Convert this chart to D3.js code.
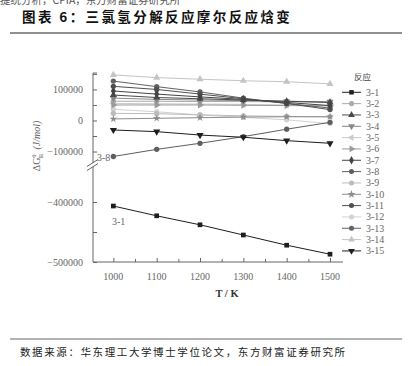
<!DOCTYPE html>
<html>
<head>
<meta charset="utf-8">
<script src="https://cdn.jsdelivr.net/npm/d3@7"></script>
<style>
  body { margin: 0; background: #fff; }
  svg { display: block; }
</style>
</head>
<body>
<svg id="chart" width="412" height="366"></svg>
<script>
// temperatures (K)
const temps = [1000, 1100, 1200, 1300, 1400, 1500];

// reaction names, in legend order
const reactions = ["3-1", "3-2", "3-3", "3-4", "3-5", "3-6", "3-7", "3-8",
                   "3-9", "3-10", "3-11", "3-12", "3-13", "3-14", "3-15"];

// ΔG values (J/mol)
const r3_1  = [-406700, -423000, -438000, -455000, -472000, -487000];
const r3_2  = [62000, 62000, 61000, 61000, 60000, 60000];
const r3_3  = [82000, 74000, 70000, 66000, 62000, 58000];
const r3_4  = [72000, 68000, 66000, 64000, 62000, 60000];
const r3_5  = [55000, 54000, 53000, 52000, 50000, 48000];
const r3_6  = [50000, 50000, 50000, 49000, 48000, 47000];
const r3_7  = [95000, 85000, 76000, 68000, 58000, 48000];
const r3_8  = [-116000, -93000, -73500, -52000, -28000, -6000];
const r3_9  = [23000, 22000, 18000, 15000, 13000, 12000];
const r3_10 = [5000, 7000, 9000, 11000, 12000, 12000];
const r3_11 = [110000, 100000, 85000, 70000, 55000, 35000];
const r3_12 = [36000, 28000, 18000, 10000, 2000, -10000];
const r3_13 = [127000, 109000, 92000, 72000, 55000, 40000];
const r3_14 = [147000, 138000, 133000, 128000, 125000, 118000];
const r3_15 = [-30600, -36000, -47000, -54000, -65000, -73500];

const upperTicks = [100000, 0, -100000];
const lowerTicks = [-400000, -500000];

const allSeries = [r3_1, r3_2, r3_3, r3_4, r3_5, r3_6, r3_7, r3_8,
                   r3_9, r3_10, r3_11, r3_12, r3_13, r3_14, r3_15];

// marker + grey per reaction
const styles = {
  "3-1":  { sym: d3.symbolSquare,   rot: 0,   c: "#1e1e1e" },
  "3-2":  { sym: d3.symbolCircle,   rot: 0,   c: "#aaaaaa" },
  "3-3":  { sym: d3.symbolTriangle, rot: 0,   c: "#4a4a4a" },
  "3-4":  { sym: d3.symbolTriangle, rot: 180, c: "#888888" },
  "3-5":  { sym: d3.symbolTriangle, rot: -90, c: "#cccccc" },
  "3-6":  { sym: d3.symbolTriangle, rot: 90,  c: "#999999" },
  "3-7":  { sym: d3.symbolDiamond,  rot: 0,   c: "#444444" },
  "3-8":  { sym: d3.symbolCircle,   rot: 0,   c: "#5e5e5e" },
  "3-9":  { sym: d3.symbolCircle,   rot: 0,   c: "#bbbbbb" },
  "3-10": { sym: d3.symbolStar,     rot: 0,   c: "#8c8c8c" },
  "3-11": { sym: d3.symbolCircle,   rot: 0,   c: "#505050" },
  "3-12": { sym: d3.symbolCircle,   rot: 0,   c: "#d2d2d2" },
  "3-13": { sym: d3.symbolCircle,   rot: 0,   c: "#626262" },
  "3-14": { sym: d3.symbolTriangle, rot: 0,   c: "#c4c4c4" },
  "3-15": { sym: d3.symbolTriangle, rot: 180, c: "#1e1e1e" }
};

const svg = d3.select("#chart");
const serif = "'Liberation Serif', 'DejaVu Serif', serif";
const cjk = "'Noto Sans CJK SC', sans-serif";

// page header / footer
svg.append("text").attr("x", 0).attr("y", 4)
  .attr("font-family", cjk).attr("font-size", 10.5).attr("fill", "#555")
  .text("提统分析，CPIA，东方财富证券研究所");
svg.append("text").attr("x", 22).attr("y", 22)
  .attr("font-family", cjk).attr("font-size", 13.5).attr("font-weight", "bold")
  .attr("letter-spacing", 2.4).attr("fill", "#111")
  .text("图表 6：三氯氢分解反应摩尔反应焓变");
svg.append("line").attr("x1", 10).attr("x2", 402).attr("y1", 33).attr("y2", 33)
  .attr("stroke", "#222").attr("stroke-width", 1.2);
svg.append("line").attr("x1", 10).attr("x2", 402).attr("y1", 339).attr("y2", 339)
  .attr("stroke", "#999").attr("stroke-width", 1.5);
svg.append("text").attr("x", 20).attr("y", 356)
  .attr("font-family", cjk).attr("font-size", 10.5).attr("letter-spacing", 1.6)
  .attr("fill", "#222")
  .text("数据来源：华东理工大学博士学位论文，东方财富证券研究所");

// scales: broken y axis, two segments
const x = d3.scaleLinear().domain([953, 1530]).range([93, 343]);
const yTop = d3.scaleLinear().domain([-137000, 153000]).range([163, 73]);
const yBot = d3.scaleLinear().domain([-500000, -350000]).range([262, 172]);
const yPos = v => v < -200000 ? yBot(v) : yTop(v);

const axisCol = "#666";
const textCol = "#666";

// y axis (ticks inside)
const gTop = svg.append("g").attr("transform", "translate(93,0)")
  .call(d3.axisRight(yTop).tickValues(d3.range(-100000, 150001, 50000))
    .tickSize(4).tickFormat(""));
const gBot = svg.append("g").attr("transform", "translate(93,0)")
  .call(d3.axisRight(yBot).tickValues([-450000, -400000, -500000])
    .tickSize(4).tickFormat(""));
[gTop, gBot].forEach(g => {
  g.select(".domain").remove();
  g.selectAll("line").attr("stroke", axisCol);
});
svg.append("line").attr("x1", 93).attr("x2", 93).attr("y1", 73).attr("y2", 262)
  .attr("stroke", axisCol);
svg.append("line").attr("x1", 93).attr("x2", 97).attr("y1", 73).attr("y2", 73)
  .attr("stroke", axisCol);

// y tick labels
const ylab = svg.append("g").attr("font-family", serif).attr("font-size", 10)
  .attr("fill", textCol).attr("text-anchor", "end");
upperTicks.forEach(t => ylab.append("text").attr("x", 83).attr("y", yTop(t) + 3.5)
  .text(t < 0 ? "\u2212" + Math.abs(t) : t));
lowerTicks.forEach(t => ylab.append("text").attr("x", 83).attr("y", yBot(t) + 3.5)
  .text("\u2212" + Math.abs(t)));

// axis break mark
svg.append("polygon").attr("points", "88,166 97,160 97,164 88,170").attr("fill", "#fff");
svg.append("line").attr("x1", 87).attr("y1", 166.5).attr("x2", 98).attr("y2", 159.5)
  .attr("stroke", axisCol);
svg.append("line").attr("x1", 87).attr("y1", 170.5).attr("x2", 98).attr("y2", 163.5)
  .attr("stroke", axisCol);

// y axis title
const yt = svg.append("text").attr("transform", "translate(40,146) rotate(-90)")
  .attr("font-family", serif).attr("font-size", 10).attr("fill", textCol)
  .attr("text-anchor", "middle");
yt.append("tspan").text("ΔG");
yt.append("tspan").attr("font-size", 7).attr("dy", -4).text("θ");
yt.append("tspan").attr("font-size", 7).attr("dx", -4).attr("dy", 7).text("R");
yt.append("tspan").attr("dy", -3).attr("dx", 4).attr("font-style", "italic").text("(J/mol)");

// x axis (ticks inside)
const gx = svg.append("g").attr("transform", "translate(0,262)")
  .call(d3.axisTop(x).tickValues(d3.range(1000, 1501, 50)).tickSize(3).tickFormat(""));
gx.select(".domain").remove();
gx.selectAll("line").attr("stroke", axisCol);
gx.selectAll(".tick line").attr("y2", d => d % 100 === 0 ? -4 : -3);
svg.append("line").attr("x1", 93).attr("x2", 343).attr("y1", 262).attr("y2", 262)
  .attr("stroke", axisCol);
svg.append("g").attr("font-family", serif).attr("font-size", 10).attr("fill", textCol)
  .attr("text-anchor", "middle")
  .selectAll("text").data(temps).join("text")
  .attr("x", d => x(d)).attr("y", 280).text(d => d);
svg.append("text").attr("x", 227).attr("y", 297).attr("text-anchor", "middle")
  .attr("font-family", serif).attr("font-size", 10.5).attr("font-weight", "bold")
  .attr("fill", "#333").text("T / K");

// series
const line = d3.line().x((d, i) => x(temps[i])).y(d => yPos(d));
const symPath = (s, size) => d3.symbol().type(s.sym).size(size)();

const plot = svg.append("g");
// draw light series first so dark ones sit on top
const order = reactions.map((r, i) => i)
  .sort((a, b) => d3.hsl(styles[reactions[b]].c).l - d3.hsl(styles[reactions[a]].c).l);
order.forEach(i => {
  const name = reactions[i], s = styles[name], vals = allSeries[i];
  plot.append("path").attr("d", line(vals)).attr("fill", "none")
    .attr("stroke", s.c).attr("stroke-width", 1);
  plot.selectAll(null).data(vals).join("path")
    .attr("d", symPath(s, s.sym === d3.symbolStar ? 18 : 22))
    .attr("transform", (d, j) => `translate(${x(temps[j])},${yPos(d)}) rotate(${s.rot})`)
    .attr("fill", s.c);
});

// in-plot labels
svg.append("text").attr("x", 97).attr("y", 161).attr("font-family", serif)
  .attr("font-size", 10).attr("fill", textCol).text("3-8");
svg.append("text").attr("x", 112).attr("y", 225).attr("font-family", serif)
  .attr("font-size", 10).attr("fill", textCol).text("3-1");

// legend
svg.append("text").attr("x", 354).attr("y", 80).attr("font-family", cjk)
  .attr("font-size", 8.5).attr("fill", "#444").text("反应");
const leg = svg.append("g").selectAll("g").data(reactions).join("g")
  .attr("transform", (d, i) => `translate(0,${92.3 + i * 11.33})`);
leg.append("line").attr("x1", 342).attr("x2", 361).attr("stroke", d => styles[d].c);
leg.append("path").attr("d", d => symPath(styles[d], 20))
  .attr("transform", d => `translate(351.5,0) rotate(${styles[d].rot})`)
  .attr("fill", d => styles[d].c);
leg.append("text").attr("x", 366).attr("y", 3.5).attr("font-family", serif)
  .attr("font-size", 10).attr("fill", textCol).text(d => d);
</script>
</body>
</html>
